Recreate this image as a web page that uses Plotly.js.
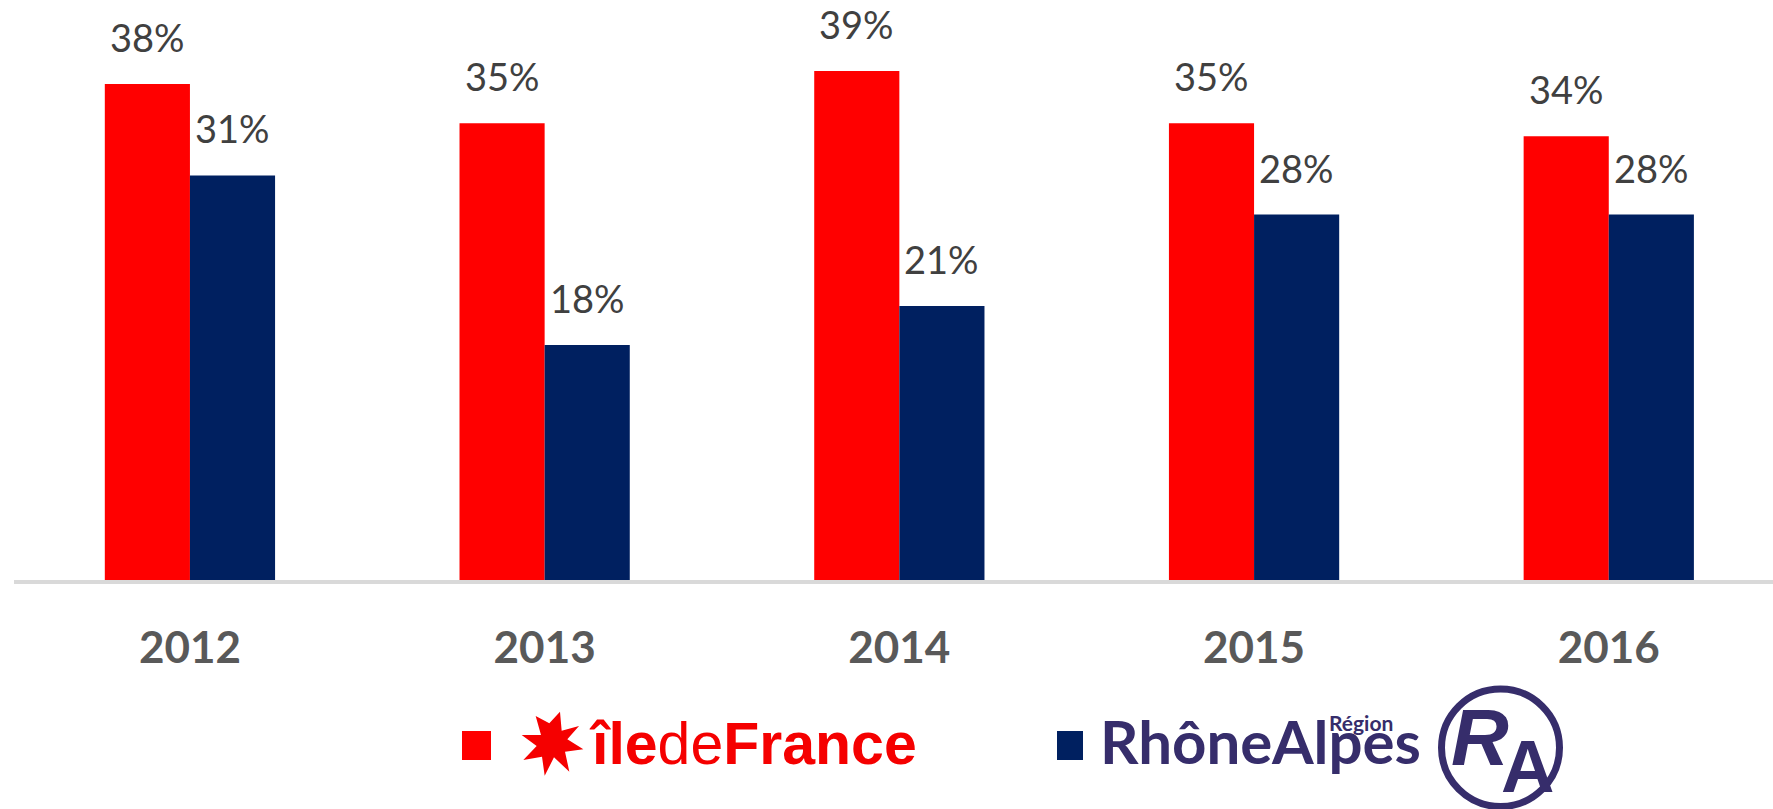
<!DOCTYPE html>
<html>
<head>
<meta charset="utf-8">
<script src="https://cdn.plot.ly/plotly-3.0.1.min.js"></script>
<style>html,body{margin:0;padding:0;background:#fff;overflow:hidden}#chart{width:1773px;height:809px}</style>
</head>
<body>
<div id="chart"></div>
<script>
const years = ['2012', '2013', '2014', '2015', '2016'];
const ileDeFrance = [38, 35, 39, 35, 34];
const rhoneAlpes = [31, 18, 21, 28, 28];
const ileColor = '#ff0000';
const rhoneColor = '#002060';
const logoPurple = '#362d6b';
const logoRed = '#f50000';

const W = 1773, H = 809, L = 14, BASE = 580;
const bargap = 0.52;
const fx = x => (x - L) / (W - L);
const fy = y => (BASE - y) / BASE;

const starPts = [[317,168],[358,190],[390,155],[395,212],[447,198],[412,238],[460,268],[405,275],[418,335],[372,292],[344,347],[336,290],[280,300],[320,258],[275,225],[333,225]];
const starPath = 'M' + starPts.map(p => fx(430 + p[0] / 3).toFixed(5) + ',' + fy(660 + p[1] / 3).toFixed(5)).join('L') + 'Z';

const traces = [
  {type: 'bar', name: 'Île-de-France', x: years, y: ileDeFrance, marker: {color: ileColor}, hoverinfo: 'skip'},
  {type: 'bar', name: 'Rhône-Alpes', x: years, y: rhoneAlpes, marker: {color: rhoneColor}, hoverinfo: 'skip'}
];

const offset = (1 - bargap) / 4;
const dataLabel = (v, i, dir) => ({
  xref: 'x', yref: 'y', x: i + dir * offset, y: v, text: v + '%', showarrow: false,
  xanchor: 'center', yanchor: 'bottom', yshift: 22,
  font: {family: 'Lato, Carlito, sans-serif', size: 38, color: '#404040'}
});
const logoText = (px, py, text, font) => ({
  xref: 'paper', yref: 'paper', x: fx(px), y: fy(py), text, showarrow: false,
  xanchor: 'left', yanchor: 'bottom', borderpad: 0, font
});

const annotations = [
  ...ileDeFrance.map((v, i) => dataLabel(v, i, -1)),
  ...rhoneAlpes.map((v, i) => dataLabel(v, i, 1)),
  logoText(588, 778, '<b>île</b>de<b>France</b>', {family: 'Liberation Sans', size: 59, color: logoRed}),
  logoText(1099, 778, '<b>RhôneAlpes</b>', {family: 'Lato', size: 60, color: logoPurple}),
  logoText(1328, 736, '<b>Région</b>', {family: 'Lato', size: 21, color: logoPurple}),
  logoText(1450, 783, '<b><i>R</i></b>', {family: 'Liberation Sans', size: 80, color: logoPurple}),
  logoText(1500, 809, '<b>A</b>', {family: 'Liberation Sans', size: 74, color: logoPurple})
];

const shapes = [
  {type: 'rect', xref: 'paper', yref: 'paper', x0: fx(462), x1: fx(491), y0: fy(731), y1: fy(760), fillcolor: ileColor, line: {width: 0}},
  {type: 'rect', xref: 'paper', yref: 'paper', x0: fx(1057), x1: fx(1083), y0: fy(731), y1: fy(760), fillcolor: rhoneColor, line: {width: 0}},
  {type: 'path', xref: 'paper', yref: 'paper', path: starPath, fillcolor: logoRed, line: {width: 0}},
  {type: 'circle', xref: 'paper', yref: 'paper', x0: fx(1441.5), x1: fx(1559.5), y0: fy(689), y1: fy(806.5), fillcolor: 'rgba(0,0,0,0)', line: {color: logoPurple, width: 7}}
];

const layout = {
  width: W, height: H,
  margin: {l: L, r: 0, t: 0, b: H - BASE, pad: 0},
  paper_bgcolor: '#ffffff', plot_bgcolor: '#ffffff',
  barmode: 'group', bargap: bargap, bargroupgap: 0,
  showlegend: false,
  xaxis: {
    type: 'category', range: [-0.496, 4.463], fixedrange: true,
    showline: true, linecolor: '#d9d9d9', linewidth: 4, showgrid: false, zeroline: false,
    ticks: '', ticklabelstandoff: 26,
    tickfont: {family: 'Lato, Carlito, sans-serif', size: 44, color: '#595959', weight: 700}
  },
  yaxis: {range: [0, BASE / 13.05], fixedrange: true, visible: false, showgrid: false, zeroline: false},
  annotations, shapes
};

Plotly.newPlot('chart', traces, layout, {displayModeBar: false, staticPlot: true});
</script>
</body>
</html>
